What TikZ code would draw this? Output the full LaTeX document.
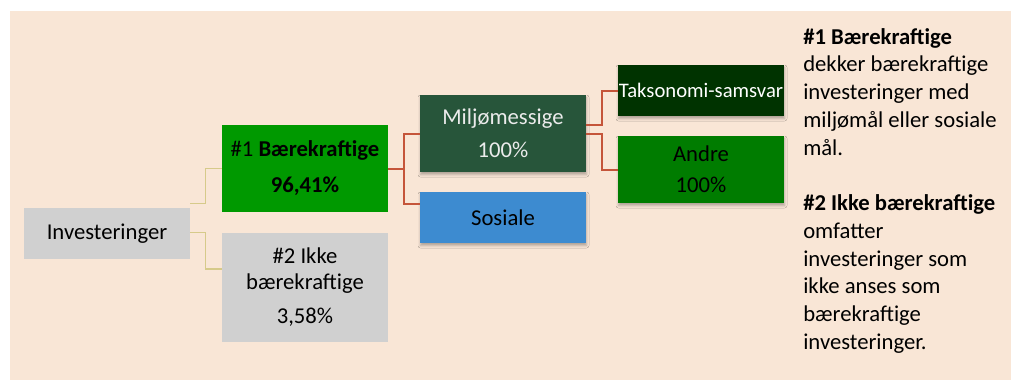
\documentclass[tikz,border=0pt]{standalone}
\usepackage{fontspec}
\setmainfont{Carlito}
\usetikzlibrary{shadows.blur}
\newdimen\px \px=0.75pt

\definecolor{peach}{HTML}{F9E6D6}
\definecolor{boxgray}{HTML}{D0D0D0}
\definecolor{susgreen}{HTML}{009900}
\definecolor{envgreen}{HTML}{27553A}
\definecolor{socblue}{HTML}{3D8BD0}
\definecolor{taxgreen}{HTML}{003300}
\definecolor{othgreen}{HTML}{007C00}
\definecolor{tanline}{HTML}{D6CA8A}
\definecolor{redline}{HTML}{C5553A}

\begin{document}
\begin{tikzpicture}[x=0.75pt, y=-0.75pt,
  box/.style={draw=none, inner sep=0pt, align=center,
    minimum width=166\px, font=\fontsize{17}{19.5}\selectfont, text=black},
  shade box/.style={box, blur shadow={shadow xshift=0.5\px, shadow yshift=-2.5\px,
    shadow blur radius=2.5\px, shadow opacity=30}},
  tanlink/.style={draw=tanline, line width=1.5\px},
  redlink/.style={draw=redline, line width=2\px},
]
\useasboundingbox (0,0) rectangle (1011,380);
\fill[peach] (10,11) rectangle (1011,380);

% first level
\node[box, fill=boxgray, minimum height=51\px] (inv) at (107,233.5) {Investeringer};

% second level
\node[box, fill=susgreen, minimum height=87\px] (sus) at (305,168.5)
  {\#1 \textbf{Bærekraftige}\\[10\px]\textbf{96,41\%}};
\node[box, fill=boxgray, minimum height=109\px] (non) at (305,287.5)
  {\#2 Ikke\\bærekraftige\\[8\px]3,58\%};

% third level
\node[shade box, fill=envgreen, minimum height=77\px, text=white!92!black] (env) at (503,133.5)
  {Miljømessige\\[7\px]100\%};
\node[shade box, fill=socblue, minimum height=51\px] (soc) at (503,217.5) {Sosiale};

% fourth level
\node[shade box, fill=taxgreen, minimum height=51\px, text=white,
  font=\fontsize{15.5}{19}\selectfont] (tax) at (701,90.5)
  {Taksonomi-samsvar};
\node[shade box, fill=othgreen, minimum height=67\px] (oth) at (701,169.5)
  {Andre\\[5\px]100\%};

% connectors
\draw[tanlink] ([yshift=4\px]inv.north east) -- ++(15,0) |- (sus.west);
\draw[tanlink] ([yshift=1\px]inv.east) -- ++(15,0) |- ([yshift=18.5\px]non.west);
\draw[redlink] (sus.east) -- ++(16,0) |- (env.west);
\draw[redlink] (sus.east) -- ++(16,0) |- ([yshift=13.5\px]soc.west);
\draw[redlink] ([yshift=8.5\px]env.east) -- ++(16,0) |- (tax.west);
\draw[redlink] (env.east) -- ++(16,0) |- (oth.west);

% explanatory notes
\node[anchor=north west, inner sep=0pt, align=left,
  font=\fontsize{17}{20.8}\selectfont] (note) at (803,28)
  {\textbf{\#1 Bærekraftige}\\
   dekker bærekraftige\\
   investeringer med\\
   miljømål eller sosiale\\
   mål.\\[20.8pt]
   \textbf{\#2 Ikke bærekraftige}\\
   omfatter\\
   investeringer som\\
   ikke anses som\\
   bærekraftige\\
   investeringer.};
\end{tikzpicture}
\end{document}
